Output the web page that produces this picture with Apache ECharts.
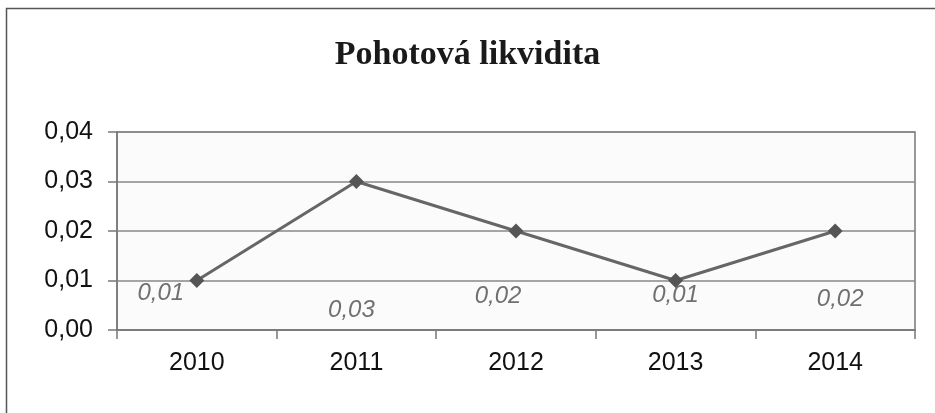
<!DOCTYPE html>
<html>
<head>
<meta charset="utf-8">
<script src="https://cdn.jsdelivr.net/npm/echarts@6/dist/echarts.min.js"></script>
<style>
  html, body { margin: 0; padding: 0; background: #fff; }
  #chart { width: 935px; height: 413px; }
</style>
</head>
<body>
<div id="chart"></div>
<script>
// data
var years = ['2010', '2011', '2012', '2013', '2014'];
var likvidita = [0.01, 0.03, 0.02, 0.01, 0.02];
var yTicks = [0, 0.01, 0.02, 0.03, 0.04];

// where Excel left each data label, relative to its point (px)
var labelShift = [[-36, 13], [-5, 129], [-18, 65], [0, 15], [5, 68]];

function fmt(v) {
  return v.toFixed(2).replace('.', ',');
}

var chart = echarts.init(document.getElementById('chart'));

var option = {
  backgroundColor: '#fff',
  animation: false,
  title: {
    text: 'Pohotová likvidita',
    left: 'center',
    top: 33,
    textStyle: {
      fontFamily: 'Liberation Serif',
      fontWeight: 'bold',
      fontSize: 34,
      color: '#1a1a1a'
    }
  },
  graphic: [{
    type: 'rect',
    shape: { x: 6.5, y: 8.5, width: 940, height: 420 },
    style: { fill: 'none', stroke: '#555', lineWidth: 1.5 },
    silent: true
  }],
  grid: {
    left: 117,
    right: 20,
    top: 132,
    bottom: 83,
    show: true,
    backgroundColor: '#fbfbfb',
    borderColor: '#777',
    borderWidth: 1.5
  },
  xAxis: {
    type: 'category',
    data: years,
    boundaryGap: true,
    axisLine: { lineStyle: { color: '#777', width: 1.5 } },
    axisTick: { show: true, length: 9, inside: false, lineStyle: { color: '#777', width: 1.5 } },
    axisLabel: {
      margin: 21,
      fontFamily: 'Liberation Sans',
      fontSize: 25,
      color: '#111'
    },
    splitLine: { show: false }
  },
  yAxis: {
    type: 'value',
    min: yTicks[0],
    max: yTicks[yTicks.length - 1],
    interval: 0.01,
    axisLine: { show: true, lineStyle: { color: '#777', width: 1.5 } },
    axisTick: { show: true, length: 9, lineStyle: { color: '#777', width: 1.5 } },
    axisLabel: {
      margin: 24,
      fontFamily: 'Liberation Sans',
      fontSize: 25,
      color: '#111',
      formatter: fmt
    },
    splitLine: { lineStyle: { color: '#888', width: 1.5 } }
  },
  series: [{
    type: 'line',
    data: likvidita.map(function (v, i) {
      return {
        value: v,
        label: { offset: labelShift[i] }
      };
    }),
    symbol: 'diamond',
    symbolSize: 15,
    lineStyle: { color: '#666', width: 3 },
    itemStyle: { color: '#555' },
    label: {
      show: true,
      position: 'inside',
      formatter: function (p) { return fmt(p.value); },
      fontFamily: 'Liberation Sans',
      fontStyle: 'italic',
      fontSize: 24,
      color: '#707070'
    }
  }]
};

chart.setOption(option);
</script>
</body>
</html>
